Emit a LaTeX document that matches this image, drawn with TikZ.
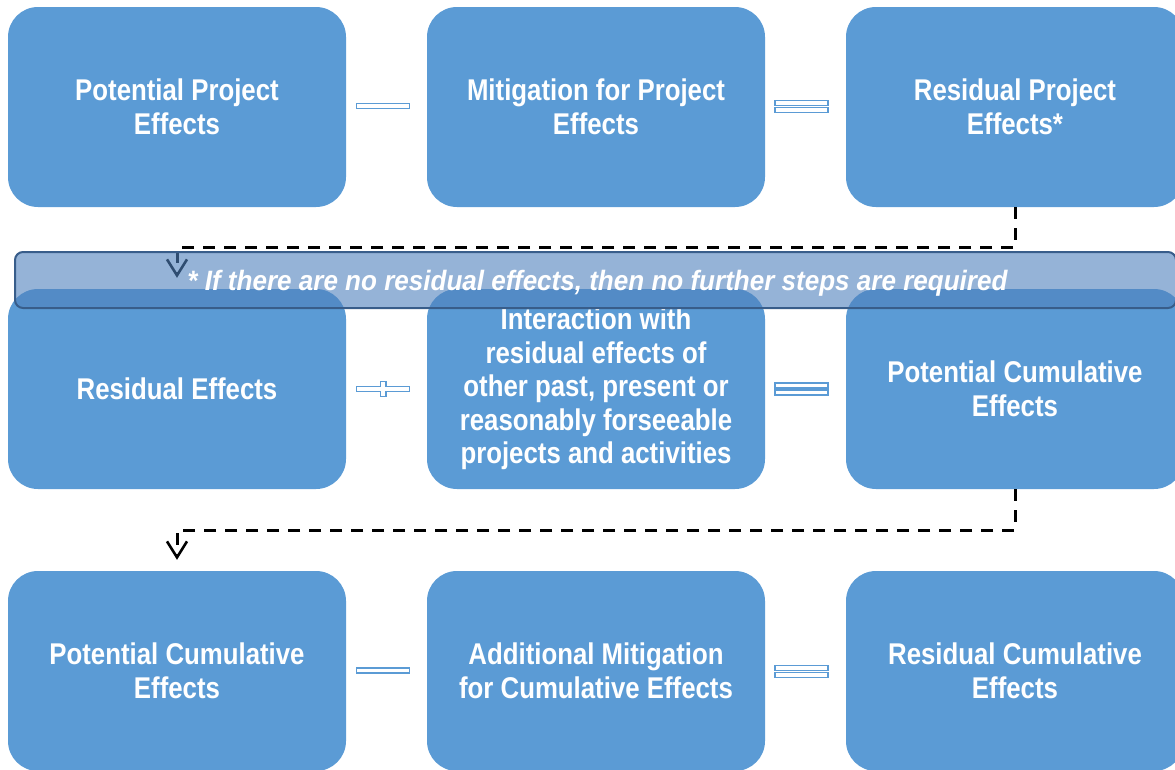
\documentclass[tikz,border=0pt]{standalone}
\usepackage{fontspec}
\newfontfamily\lbl{Liberation Sans}[FakeStretch=0.86]
\newfontfamily\notefont{Liberation Sans}[FakeStretch=0.93]
\usetikzlibrary{arrows.meta,calc}
\definecolor{boxblue}{HTML}{5B9BD5}
\definecolor{bandfill}{HTML}{4F81BD}
\definecolor{bandline}{HTML}{385D8A}
\definecolor{opline}{HTML}{5B9BD5}
\begin{document}
\begin{tikzpicture}[x=1pt,y=-1pt,
  effect/.style={fill=boxblue, rounded corners=30pt, minimum width=338pt,
    minimum height=200pt, inner sep=0pt, text=white, align=center,
    font=\lbl\bfseries\fontsize{30}{33.5}\selectfont},
  opbar/.style={draw=opline, fill=white, line width=1.3pt, minimum width=53pt,
    minimum height=5pt, inner sep=0pt},
  flow/.style={draw=black, line width=3pt, dash pattern=on 12pt off 9pt,
    -{Straight Barb[length=16pt,width=20pt,line width=2.6pt]}, shorten >=11pt},
  band/.style={fill=bandfill, fill opacity=0.6, draw=bandline, draw opacity=1,
    line width=2pt, rounded corners=8pt, minimum width=1161pt, minimum height=56pt},
  bandtext/.style={text=white, font=\notefont\bfseries\itshape\fontsize{28}{32}\selectfont}
]
\useasboundingbox (0,0) rectangle (1175,769);
\clip (0,0) rectangle (1175,769);

% effect boxes, three rows of three
\node[effect] (r1a) at (177,107) {Potential Project\\Effects};
\node[effect] (r1b) at (596,107) {Mitigation for Project\\Effects};
\node[effect] (r1c) at (1015,107) {Residual Project\\Effects*};

\node[effect] (r2a) at (177,389) {Residual Effects};
\node[effect] (r2b) at (596,389) {Interaction with\\residual effects of\\other past, present or\\reasonably forseeable\\projects and activities};
\node[effect] (r2c) at (1015,389) {Potential Cumulative\\Effects};

\node[effect] (r3a) at (177,671) {Potential Cumulative\\Effects};
\node[effect] (r3b) at (596,671) {Additional Mitigation\\for Cumulative Effects};
\node[effect] (r3c) at (1015,671) {Residual Cumulative\\Effects};

% operators between the boxes
\node[opbar] (m1) at (383,106.3) {};
\node[opbar] (e1a) at (801.5,103) {};
\node[opbar] (e1b) at (801.5,110) {};

\draw[draw=opline, fill=white, line width=1.3pt]
  (356.5,386.5) -- (380.5,386.5) -- (380.5,381.5) -- (386,381.5) -- (386,386.5)
  -- (409.5,386.5) -- (409.5,391.8) -- (386,391.8) -- (386,396.5) -- (380.5,396.5)
  -- (380.5,391.8) -- (356.5,391.8) -- cycle;
\node[opbar] (e2a) at (801.5,385.5) {};
\node[opbar] (e2b) at (801.5,392.5) {};

\node[opbar] (m3) at (383,670.5) {};
\node[opbar] (e3a) at (801.5,668) {};
\node[opbar] (e3b) at (801.5,675) {};

% dashed flow from the end of one row to the start of the next
\draw[flow] (r1c.south) -- ++(0,40) -| (r2a.north);
\draw[flow] (r2c.south) -- ++(0,41) -| (r3a.north);

% translucent note band
\node[band] (note) at (595.5,280) {};
\node[bandtext] (notetext) at (597.5,283) {* If there are no residual effects, then no further steps are required};
\end{tikzpicture}
\end{document}
